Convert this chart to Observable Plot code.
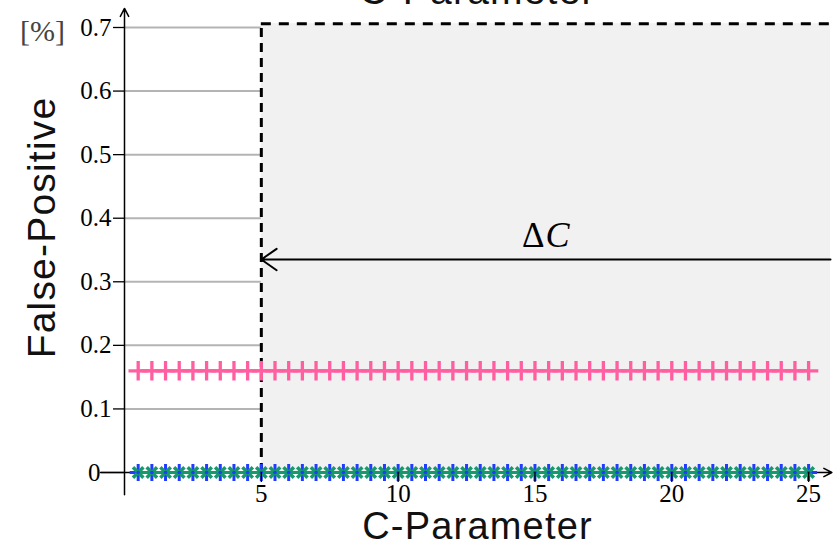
<!DOCTYPE html>
<html>
<head>
<meta charset="utf-8">
<script src="https://cdn.jsdelivr.net/npm/d3@7"></script>
<script src="https://cdn.jsdelivr.net/npm/@observablehq/plot@0.6"></script>
<style>
  html, body { margin: 0; padding: 0; background: #fff; }
  #chart svg { display: block; }
</style>
</head>
<body>
<div id="chart"></div>
<script>
// ---- data ----
const cParam = [0.5, 1, 1.5, 2, 2.5, 3, 3.5, 4, 4.5, 5,
                5.5, 6, 6.5, 7, 7.5, 8, 8.5, 9, 9.5, 10,
                10.5, 11, 11.5, 12, 12.5, 13, 13.5, 14, 14.5, 15,
                15.5, 16, 16.5, 17, 17.5, 18, 18.5, 19, 19.5, 20,
                20.5, 21, 21.5, 22, 22.5, 23, 23.5, 24, 24.5, 25];
const fpPink  = [0.16, 0.16, 0.16, 0.16, 0.16, 0.16, 0.16, 0.16, 0.16, 0.16,
                 0.16, 0.16, 0.16, 0.16, 0.16, 0.16, 0.16, 0.16, 0.16, 0.16,
                 0.16, 0.16, 0.16, 0.16, 0.16, 0.16, 0.16, 0.16, 0.16, 0.16,
                 0.16, 0.16, 0.16, 0.16, 0.16, 0.16, 0.16, 0.16, 0.16, 0.16,
                 0.16, 0.16, 0.16, 0.16, 0.16, 0.16, 0.16, 0.16, 0.16, 0.16];
const fpGreen = [0, 0, 0, 0, 0, 0, 0, 0, 0, 0,
                 0, 0, 0, 0, 0, 0, 0, 0, 0, 0,
                 0, 0, 0, 0, 0, 0, 0, 0, 0, 0,
                 0, 0, 0, 0, 0, 0, 0, 0, 0, 0,
                 0, 0, 0, 0, 0, 0, 0, 0, 0, 0];
const fpBlue  = [0, 0, 0, 0, 0, 0, 0, 0, 0, 0,
                 0, 0, 0, 0, 0, 0, 0, 0, 0, 0,
                 0, 0, 0, 0, 0, 0, 0, 0, 0, 0,
                 0, 0, 0, 0, 0, 0, 0, 0, 0, 0,
                 0, 0, 0, 0, 0, 0, 0, 0, 0, 0];
const xTicks = [5, 10, 15, 20, 25];
const yTicks = [0.1, 0.2, 0.3, 0.4, 0.5, 0.6, 0.7];
const yZeroTick = [0];
const cThreshold = [5];        // boundary of the ΔC region
const xMax = 25.8;             // right end of x axis
const yMax = 0.7;
const regionTop = [0.706];     // top of shaded ΔC region
const arrowLevel = [0.335];    // height of ΔC arrow
const deltaLabel = [{x: 15.35, y: 0.354}];
const xAxisExtent = [-0.88, 25.85];
const yAxisExtent = [-0.035, 0.73];
const titleText = "C-Parameter";
const xLabelText = "C-Parameter";
const yLabelText = "False-Positive";
const unitText = "[%]";

const pink = "#ff5fa0", green = "#17996e", blue = "#1f3cff";
const serif = "'Liberation Serif', 'Times New Roman', serif";
const sans = "'Liberation Sans', Arial, Helvetica, sans-serif";

const rows = cParam.map((c, i) => ({c, pink: fpPink[i], green: fpGreen[i], blue: fpBlue[i]}));

const chart = Plot.plot({
  width: 837,
  height: 543,
  marginLeft: 124,
  marginRight: 7,
  marginTop: 27,
  marginBottom: 71,
  style: {background: "#fff", color: "black", overflow: "visible"},
  x: {domain: [0, xMax], axis: null},
  y: {domain: [0, yMax], axis: null},
  marks: [
    // shaded ΔC region
    Plot.rect(cThreshold, {x1: d => d, x2: xMax, y1: 0, y2: regionTop[0], fill: "#f1f1f1"}),
    // grid lines left of the threshold
    Plot.ruleY(yTicks, {x1: 0, x2: cThreshold[0], stroke: "#b4b4b4", strokeWidth: 2}),
    // dashed region border
    Plot.ruleX(cThreshold, {y1: 0, y2: regionTop[0], stroke: "black", strokeWidth: 3, strokeDasharray: "9,6"}),
    Plot.ruleY(regionTop, {x1: cThreshold[0], x2: xMax, stroke: "black", strokeWidth: 3, strokeDasharray: "10,8"}),
    // ΔC arrow
    Plot.arrow(arrowLevel, {x1: xMax, x2: cThreshold[0], y1: d => d, y2: d => d, stroke: "black", strokeWidth: 2, headLength: 14, headAngle: 70}),
    Plot.text(deltaLabel, {x: "x", y: "y", text: () => "Δ", textAnchor: "end", lineAnchor: "bottom", fontSize: 35, fontFamily: serif}),
    Plot.text(deltaLabel, {x: "x", y: "y", text: () => "C", textAnchor: "start", lineAnchor: "bottom", fontSize: 36, fontFamily: serif, fontStyle: "italic", dx: 1}),
    // axis lines with arrow heads
    Plot.arrow([0], {x1: 0, x2: 0, y1: yAxisExtent[0], y2: yAxisExtent[1], stroke: "black", strokeWidth: 1.5, headLength: 9, headAngle: 55}),
    Plot.arrow([0], {x1: xAxisExtent[0], x2: xAxisExtent[1], y1: 0, y2: 0, stroke: "black", strokeWidth: 1.5, headLength: 9, headAngle: 55}),
    // pink series
    Plot.line(rows, {x: "c", y: "pink", stroke: pink, strokeWidth: 3}),
    Plot.dot(rows, {x: "c", y: "pink", symbol: "plus", r: 6.3, stroke: pink, strokeWidth: 3.3}),
    // blue & green series
    Plot.dot(rows, {x: "c", y: "blue", symbol: "plus", r: 5.5, stroke: blue, strokeWidth: 3}),
    Plot.line(rows, {x: "c", y: "green", stroke: green, strokeWidth: 3}),
    Plot.dot(rows, {x: "c", y: "green", symbol: "times", r: 4.8, stroke: green, strokeWidth: 3.5}),
    Plot.dot(rows, {x: "c", y: "blue", r: 1.8, fill: blue}),
    // axes
    Plot.axisY(yTicks, {tickSize: 11, tickPadding: 2, tickFormat: d => d.toFixed(1), fontSize: 25, fontFamily: serif, label: null, strokeWidth: 1.3}),
    Plot.axisY(yZeroTick, {tickSize: 23, tickPadding: 1, tickFormat: d => "0", fontSize: 25, fontFamily: serif, label: null, strokeWidth: 1.3}),
    Plot.axisX(xTicks, {tickSize: 10, tickPadding: 2, fontSize: 25, fontFamily: serif, label: null, strokeWidth: 1.3}),
    // labels
    Plot.text([titleText], {frameAnchor: "top", text: d => d, textAnchor: "middle", lineAnchor: "bottom", dy: -24, fontSize: 39, fontFamily: sans, fill: "#111"}),
    Plot.text([xLabelText], {frameAnchor: "bottom", text: d => d, textAnchor: "middle", lineAnchor: "bottom", dy: 66, fontSize: 38, fontFamily: sans, fill: "#111"}),
    Plot.text([yLabelText], {frameAnchor: "left", text: d => d, textAnchor: "middle", rotate: -90, lineAnchor: "bottom", dx: -70, dy: -22.5, fontSize: 39, fontFamily: sans, fill: "#111"}),
    Plot.text([unitText], {frameAnchor: "top-left", text: d => d, lineAnchor: "bottom", textAnchor: "middle", dx: -82, dy: 13, fontSize: 30, fontFamily: serif, fill: "#444"})
  ]
});
document.getElementById("chart").appendChild(chart);
d3.select(chart).selectAll("text").filter(function() { return this.textContent === "C-Parameter" || this.textContent === "False-Positive"; }).style("letter-spacing", "1.2px");
</script>
</body>
</html>
